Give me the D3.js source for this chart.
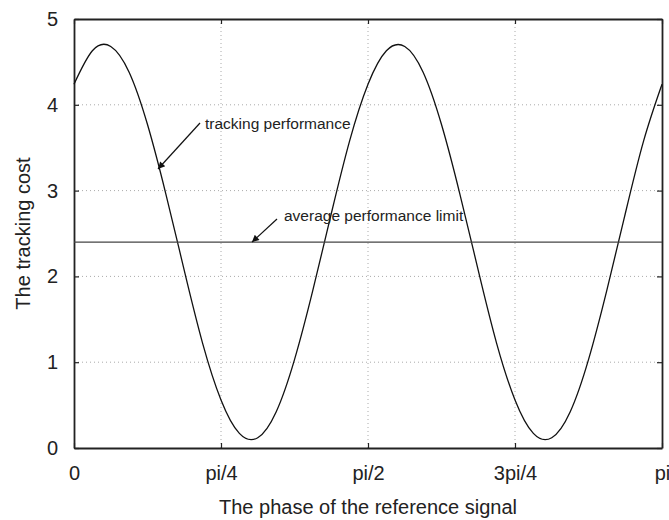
<!DOCTYPE html>
<html>
<head>
<meta charset="utf-8">
<script src="https://cdn.jsdelivr.net/npm/d3@7"></script>
<style>
body { margin: 0; background: #fff; }
text { font-family: "Liberation Sans", Arial, sans-serif; fill: #222; }
</style>
</head>
<body>
<script>
var width = 669, height = 520;
var margin = {top: 19, right: 7, bottom: 72, left: 74};

// phase samples in units of pi/32, tracking cost
var phaseSteps = [0,1,2,3,4,5,6,7,8,9,10,11,12,13,14,15,16,17,18,19,20,21,22,23,24,25,26,27,28,29,30,31,32];
var trackingCost = [4.24,4.63,4.68,4.38,3.77,2.96,2.07,1.22,0.56,0.17,0.12,0.42,1.03,1.84,2.73,3.58,
	4.24,4.63,4.68,4.38,3.77,2.96,2.07,1.22,0.56,0.17,0.12,0.42,1.03,1.84,2.73,3.58,4.24];
var averageLimit = 2.4;

var xTicks = [0, Math.PI/4, Math.PI/2, 3*Math.PI/4, Math.PI];
var xTickLabels = ["0", "pi/4", "pi/2", "3pi/4", "pi"];
var yTicks = [0, 1, 2, 3, 4, 5];

var svg = d3.select("body").append("svg")
	.attr("width", width)
	.attr("height", height);

var x = d3.scaleLinear().domain([0, Math.PI]).range([margin.left, width - margin.right]);
var y = d3.scaleLinear().domain([0, 5]).range([height - margin.bottom, margin.top]);

// grid
svg.append("g").selectAll("line")
	.data(xTicks.slice(1, -1))
	.enter().append("line")
	.attr("x1", function(d){ return x(d); })
	.attr("x2", function(d){ return x(d); })
	.attr("y1", y(0)).attr("y2", y(5))
	.attr("stroke", "#aaa").attr("stroke-dasharray", "1,3");
svg.append("g").selectAll("line")
	.data(yTicks.slice(1, -1))
	.enter().append("line")
	.attr("y1", function(d){ return y(d); })
	.attr("y2", function(d){ return y(d); })
	.attr("x1", x(0)).attr("x2", x(Math.PI))
	.attr("stroke", "#aaa").attr("stroke-dasharray", "1,3");

// axes, ticks pointing inward
var xAxis = d3.axisBottom(x).tickValues(xTicks)
	.tickFormat(function(d, i){ return xTickLabels[i]; })
	.tickSizeInner(-5).tickSizeOuter(0).tickPadding(18);
var gx = svg.append("g").attr("transform", "translate(0," + y(0) + ")").call(xAxis);
var yAxis = d3.axisLeft(y).tickValues(yTicks).tickFormat(d3.format("d"))
	.tickSizeInner(-5).tickSizeOuter(0).tickPadding(16);
var gy = svg.append("g").attr("transform", "translate(" + x(0) + ",0)").call(yAxis);
svg.append("g").attr("transform", "translate(0," + y(5) + ")")
	.call(d3.axisTop(x).tickValues(xTicks).tickFormat("").tickSizeInner(-5).tickSizeOuter(0));
svg.append("g").attr("transform", "translate(" + x(Math.PI) + ",0)")
	.call(d3.axisRight(y).tickValues(yTicks).tickFormat("").tickSizeInner(-5).tickSizeOuter(0));

svg.selectAll(".domain").attr("stroke", "#222").attr("stroke-width", 1.8);
svg.selectAll(".tick line").attr("stroke", "#222").attr("stroke-width", 1.2);
gx.selectAll("text").attr("font-size", 20).attr("font-family", "Liberation Sans, Arial, sans-serif").attr("fill", "#222");
gy.selectAll("text").attr("font-size", 20).attr("font-family", "Liberation Sans, Arial, sans-serif").attr("fill", "#222");

// data
var line = d3.line()
	.x(function(d){ return x(d * Math.PI / 32); })
	.y(function(d, i){ return y(trackingCost[i]); })
	.curve(d3.curveNatural);
svg.append("path")
	.datum(phaseSteps)
	.attr("d", line)
	.attr("fill", "none").attr("stroke", "#111").attr("stroke-width", 1.3);

svg.append("line")
	.attr("x1", x(0)).attr("x2", x(Math.PI))
	.attr("y1", y(averageLimit)).attr("y2", y(averageLimit))
	.attr("stroke", "#444").attr("stroke-width", 1.3);

// annotations
svg.append("defs").append("marker")
	.attr("id", "arrow").attr("viewBox", "0 0 10 10")
	.attr("refX", 10).attr("refY", 5)
	.attr("markerWidth", 10).attr("markerHeight", 7)
	.attr("markerUnits", "userSpaceOnUse")
	.attr("orient", "auto")
	.append("path").attr("d", "M0,0L10,5L0,10z").attr("fill", "#111");

svg.append("line")
	.attr("x1", 200).attr("y1", 123).attr("x2", 158).attr("y2", 169)
	.attr("stroke", "#111").attr("stroke-width", 1.2).attr("marker-end", "url(#arrow)");
svg.append("text").attr("x", 205).attr("y", 129).attr("font-size", 15.5).text("tracking performance");

svg.append("line")
	.attr("x1", 277).attr("y1", 219).attr("x2", 252).attr("y2", y(averageLimit))
	.attr("stroke", "#111").attr("stroke-width", 1.2).attr("marker-end", "url(#arrow)");
svg.append("text").attr("x", 284).attr("y", 221).attr("font-size", 15.5).text("average performance limit");

// axis titles
svg.append("text")
	.attr("x", (x(0) + x(Math.PI)) / 2).attr("y", 514)
	.attr("text-anchor", "middle").attr("font-size", 20)
	.text("The phase of the reference signal");
svg.append("text")
	.attr("transform", "translate(30," + ((y(0) + y(5)) / 2) + ") rotate(-90)")
	.attr("text-anchor", "middle").attr("font-size", 20)
	.text("The tracking cost");
</script>
</body>
</html>
